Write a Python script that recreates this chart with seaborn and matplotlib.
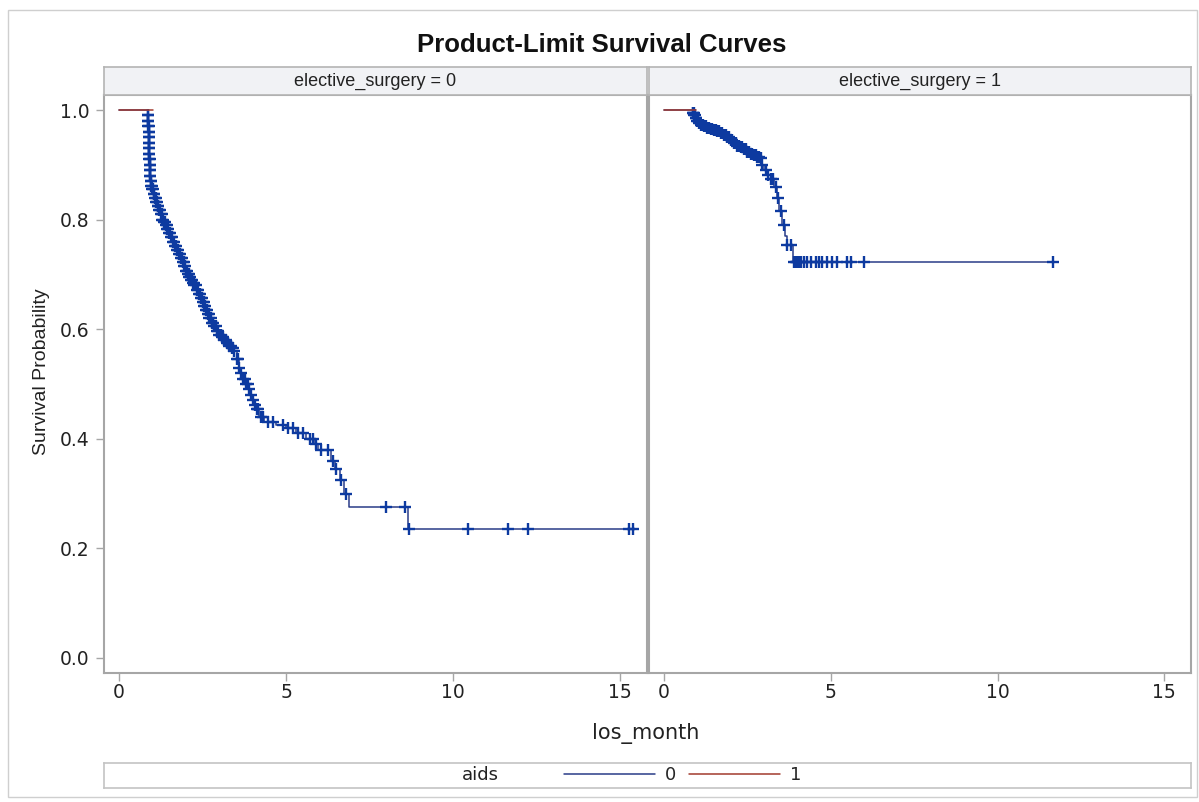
import numpy as np
import pandas as pd
import matplotlib
matplotlib.use("Agg")
import matplotlib.pyplot as plt
from matplotlib.lines import Line2D
from matplotlib.patches import Rectangle
import seaborn as sns

sns.set_theme(style="white")
plt.rcParams["font.family"] = ["Liberation Sans", "DejaVu Sans"]

# Kaplan-Meier step knots (event time, survival after the event), aids = 0
es0_times = [0.0, 0.870, 0.875, 0.880, 0.885, 0.890, 0.895, 0.900, 0.905, 0.910,
             0.915, 0.920, 0.930, 0.945, 0.97, 1.00, 1.04, 1.08, 1.12, 1.16, 1.20,
             1.25, 1.30, 1.35, 1.40, 1.45, 1.50, 1.55, 1.60, 1.66, 1.72, 1.78, 1.85,
             1.90, 1.95, 2.00, 2.05, 2.10, 2.15, 2.20, 2.25, 2.32, 2.40, 2.45, 2.50,
             2.55, 2.60, 2.65, 2.70, 2.78, 2.85, 2.92, 3.00, 3.08, 3.15, 3.22, 3.30,
             3.38, 3.45, 3.52, 3.60, 3.66, 3.72, 3.80, 3.90, 3.95, 4.00, 4.06, 4.12,
             4.20, 4.35, 4.70, 5.00, 5.30, 5.60, 5.85, 5.95, 6.35, 6.45, 6.62, 6.72,
             6.88, 8.65, 15.45]
es0_surv = [1.0, 0.99, 0.98, 0.97, 0.96, 0.95, 0.94, 0.93, 0.92, 0.91,
            0.90, 0.89, 0.88, 0.87, 0.862, 0.855, 0.847, 0.84, 0.832, 0.825, 0.817,
            0.81, 0.80, 0.795, 0.79, 0.782, 0.775, 0.768, 0.76, 0.752, 0.745, 0.737, 0.73,
            0.722, 0.715, 0.707, 0.70, 0.695, 0.69, 0.685, 0.68, 0.672, 0.665, 0.657, 0.65,
            0.642, 0.635, 0.627, 0.62, 0.612, 0.605, 0.597, 0.59, 0.585, 0.58, 0.575, 0.57,
            0.565, 0.56, 0.545, 0.53, 0.52, 0.51, 0.50, 0.49, 0.48, 0.47, 0.462, 0.455,
            0.44, 0.43, 0.425, 0.42, 0.41, 0.40, 0.39, 0.38, 0.36, 0.345, 0.325, 0.30,
            0.276, 0.236, 0.236]
es0_censor = [0.870, 0.872, 0.875, 0.877, 0.880, 0.882, 0.885, 0.887, 0.890, 0.892,
              0.895, 0.897, 0.900, 0.902, 0.905, 0.907, 0.910, 0.912, 0.915, 0.917,
              0.920, 0.925, 0.930, 0.937, 0.945, 0.96, 0.97, 0.985, 1.00, 1.02, 1.04,
              1.06, 1.08, 1.10, 1.12, 1.14, 1.16, 1.18, 1.20, 1.22, 1.25, 1.28, 1.30,
              1.33, 1.35, 1.38, 1.40, 1.43, 1.45, 1.48, 1.50, 1.53, 1.55, 1.58, 1.60,
              1.63, 1.66, 1.69, 1.72, 1.75, 1.78, 1.82, 1.85, 1.88, 1.90, 1.93, 1.95,
              1.98, 2.00, 2.03, 2.05, 2.08, 2.10, 2.13, 2.15, 2.18, 2.20, 2.23, 2.25,
              2.29, 2.32, 2.36, 2.40, 2.43, 2.45, 2.48, 2.50, 2.53, 2.55, 2.58, 2.60,
              2.63, 2.65, 2.68, 2.70, 2.74, 2.78, 2.82, 2.85, 2.89, 2.92, 2.96, 3.00,
              3.05, 3.08, 3.12, 3.15, 3.19, 3.22, 3.26, 3.30, 3.34, 3.38, 3.42, 3.45,
              3.52, 3.56, 3.60, 3.66, 3.72, 3.76, 3.80, 3.85, 3.90, 3.95, 4.00, 4.06,
              4.12, 4.16, 4.25, 4.30, 4.45, 4.60, 4.90, 5.05, 5.20, 5.35, 5.50, 5.70,
              5.80, 5.90, 6.05, 6.25, 6.40, 6.50, 6.65, 6.80, 8.00, 8.55, 8.68, 10.45,
              11.65, 12.25, 15.25, 15.38]

es1_times = [0.0, 0.87, 0.90, 0.95, 1.00, 1.06, 1.12, 1.20, 1.30, 1.40, 1.50, 1.60,
             1.70, 1.80, 1.90, 2.00, 2.10, 2.20, 2.30, 2.40, 2.50, 2.60, 2.70, 2.80,
             2.90, 2.95, 3.00, 3.10, 3.20, 3.30, 3.38, 3.45, 3.55, 3.62, 3.68, 3.88,
             11.74]
es1_surv = [1.0, 0.995, 0.99, 0.985, 0.98, 0.976, 0.973, 0.97, 0.968, 0.966, 0.964,
            0.962, 0.958, 0.955, 0.95, 0.945, 0.94, 0.935, 0.932, 0.928, 0.924, 0.92,
            0.917, 0.914, 0.912, 0.90, 0.89, 0.882, 0.875, 0.86, 0.84, 0.815, 0.79,
            0.77, 0.754, 0.7226, 0.7226]
es1_censor = [0.87, 0.88, 0.89, 0.90, 0.92, 0.95, 0.97, 1.00, 1.03, 1.06, 1.09, 1.12,
              1.16, 1.20, 1.25, 1.30, 1.35, 1.40, 1.45, 1.50, 1.55, 1.60, 1.65, 1.70,
              1.75, 1.80, 1.85, 1.90, 1.95, 2.00, 2.05, 2.10, 2.15, 2.20, 2.25, 2.30,
              2.35, 2.40, 2.45, 2.50, 2.55, 2.60, 2.65, 2.70, 2.75, 2.80, 2.85, 2.90,
              2.95, 3.05, 3.12, 3.20, 3.28, 3.35, 3.42, 3.50, 3.60, 3.70, 3.80, 3.90,
              3.95, 4.00, 4.05, 4.10, 4.20, 4.30, 4.40, 4.55, 4.65, 4.75, 4.90, 5.05,
              5.20, 5.50, 5.60, 6.00, 11.65]

# aids = 1 curves (no events observed)
aids1_es0_times = [0.0, 1.02]
aids1_es0_surv = [1.0, 1.0]
aids1_es1_times = [0.0, 0.96]
aids1_es1_surv = [1.0, 1.0]

panel_titles = ["elective_surgery = 0", "elective_surgery = 1"]
x_ticks = [0, 5, 10, 15]
y_ticks = [0.0, 0.2, 0.4, 0.6, 0.8, 1.0]
legend_labels = ["0", "1"]

BLUE_LINE = "#2a3c88"
BLUE_MARK = "#0d3aa0"
RED_LINE = "#a23a2e"
FRAME = "#a6a6a6"
TEXT = "#222222"

W, H = 1199, 802
fig = plt.figure(figsize=(W / 100, H / 100), dpi=100)


def fx(px):
    return px / W


def fy(py):
    return 1 - py / H


# outer border of the graph
fig.patches.append(Rectangle((fx(8), fy(797)), fx(1189), (797 - 10) / H,
                             transform=fig.transFigure, fill=False,
                             edgecolor="#cfcfcf", linewidth=1.0))

panels = [
    (104, 647, es0_times, es0_surv, es0_censor, aids1_es0_times, aids1_es0_surv),
    (649, 1191, es1_times, es1_surv, es1_censor, aids1_es1_times, aids1_es1_surv),
]
top, bottom, strip_top = 95, 673, 67

for i, (x0, x1, t, s, cen, t1, s1) in enumerate(panels):
    ax = fig.add_axes([fx(x0), fy(bottom), fx(x1 - x0), (bottom - top) / H])
    ax.set_facecolor("white")
    curve = pd.DataFrame({"time": t, "surv": s})
    sns.lineplot(data=curve, x="time", y="surv", ax=ax, color=BLUE_LINE,
                 drawstyle="steps-post", estimator=None, linewidth=1.1, zorder=2)
    t_arr = np.asarray(t)
    s_arr = np.asarray(s)
    idx = np.searchsorted(t_arr, np.asarray(cen), side="right") - 1
    marks = pd.DataFrame({"time": cen, "surv": s_arr[idx]})
    sns.scatterplot(data=marks, x="time", y="surv", ax=ax, marker="+", s=68,
                    color=BLUE_MARK, linewidth=1.7, zorder=3)
    grp1 = pd.DataFrame({"time": t1, "surv": s1})
    sns.lineplot(data=grp1, x="time", y="surv", ax=ax, color=RED_LINE,
                 drawstyle="steps-post", estimator=None, linewidth=1.1, zorder=4)

    ax.set_xlim(-0.45, 15.8)
    ax.set_ylim(-0.0274, 1.0274)
    ax.set_xticks(x_ticks)
    ax.set_xticklabels([str(v) for v in x_ticks], family="DejaVu Sans",
                       fontsize=13.5, color=TEXT)
    ax.set_xlabel("")
    ax.set_ylabel("")
    if i == 0:
        ax.set_yticks(y_ticks)
        ax.set_yticklabels([f"{v:.1f}" for v in y_ticks], family="DejaVu Sans",
                           fontsize=13.5, color=TEXT)
        ax.tick_params(axis="y", length=5.5, width=1, color=FRAME, pad=5, left=True)
    else:
        ax.set_yticks([])
    ax.tick_params(axis="x", length=5.5, width=1, color=FRAME, pad=2, bottom=True)
    for sp in ax.spines.values():
        sp.set_color(FRAME)
        sp.set_linewidth(1.5)

    strip = fig.add_axes([fx(x0), fy(top), fx(x1 - x0), (top - strip_top) / H])
    strip.set_facecolor("#f1f2f5")
    strip.set_xticks([])
    strip.set_yticks([])
    for sp in strip.spines.values():
        sp.set_color("#b4b4b4")
        sp.set_linewidth(1.2)
    strip.text(0.5, 0.5, panel_titles[i], ha="center", va="center",
               fontsize=13, color=TEXT, transform=strip.transAxes)

fig.text(fx(602), fy(45), "Product-Limit Survival Curves", ha="center",
         va="center", fontsize=18.5, fontweight="bold", color="#111111")
fig.text(fx(42), fy(372), "Survival Probability", ha="center", va="center",
         rotation=90, fontsize=14, color=TEXT)
fig.text(fx(646), fy(733), "los_month", ha="center", va="center",
         family="DejaVu Sans", fontsize=15, color=TEXT)

# legend strip
leg_ax = fig.add_axes([fx(104), fy(788), fx(1191 - 104), (788 - 763) / H])
leg_ax.set_xticks([])
leg_ax.set_yticks([])
for sp in leg_ax.spines.values():
    sp.set_color("#c4c4c4")
    sp.set_linewidth(1.2)
leg_ax.text((480 - 104) / (1191 - 104), 0.5, "aids", ha="center", va="center",
            family="DejaVu Sans", fontsize=13, color=TEXT,
            transform=leg_ax.transAxes)
handles = [Line2D([], [], color=BLUE_LINE, linewidth=1.1),
           Line2D([], [], color=RED_LINE, linewidth=1.1)]
leg_ax.legend(handles, legend_labels, ncol=2, frameon=False, loc="center",
              bbox_to_anchor=((683 - 104) / (1191 - 104), 0.5),
              handlelength=5.0, handletextpad=0.6, columnspacing=0.7,
              prop={"family": "DejaVu Sans", "size": 13}, borderpad=0)

fig.savefig("out.png", dpi=100, facecolor="white")
